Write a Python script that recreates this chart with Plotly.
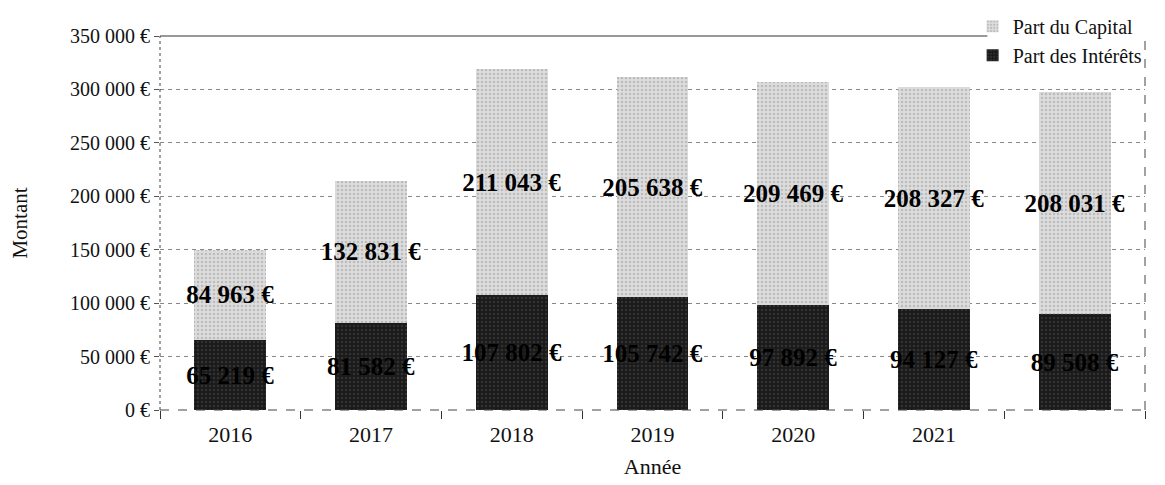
import plotly.graph_objects as go

years = ["2016", "2017", "2018", "2019", "2020", "2021", "2022"]
year_labels = ["2016", "2017", "2018", "2019", "2020", "2021", ""]
capital = [84963, 132831, 211043, 205638, 209469, 208327, 208031]
interets = [65219, 81582, 107802, 105742, 97892, 94127, 89508]
ytick_vals = [0, 50000, 100000, 150000, 200000, 250000, 300000, 350000]
ytick_text = ["0 €", "50 000 €", "100 000 €", "150 000 €", "200 000 €", "250 000 €", "300 000 €", "350 000 €"]

def eur(v):
    return f"{v:,}".replace(",", " ") + " €"

serif = "Liberation Serif, DejaVu Serif, serif"

fig = go.Figure()
fig.add_trace(go.Bar(
    x=years, y=interets, name="Part des Intérêts",
    marker=dict(color="#1e1e1e", line=dict(width=0),
                pattern=dict(shape=".", fgcolor="#4a4a4a", bgcolor="#1a1a1a", size=4, solidity=0.3)),
    text=["<b>" + eur(v) + "</b>" for v in interets],
    textposition="inside", insidetextanchor="middle", textangle=0,
    textfont=dict(family=serif, size=25, color="#000000"),
))
fig.add_trace(go.Bar(
    x=years, y=capital, name="Part du Capital",
    marker=dict(color="#d4d4d4", line=dict(width=0),
                pattern=dict(shape=".", fgcolor="#999999", bgcolor="#dcdcdc", size=4, solidity=0.3)),
    text=["<b>" + eur(v) + "</b>" for v in capital],
    textposition="inside", insidetextanchor="middle", textangle=0,
    textfont=dict(family=serif, size=25, color="#000000"),
))

fig.update_layout(
    barmode="stack",
    bargap=0.49,
    width=1157, height=477,
    margin=dict(l=152, r=20, t=28, b=75, autoexpand=False),
    paper_bgcolor="white", plot_bgcolor="white",
    font=dict(family=serif, size=18, color="#111111"),
    uniformtext=dict(minsize=25, mode="show"),
    legend=dict(x=0.825, y=1.078, xanchor="left", yanchor="top",
                traceorder="reversed", font=dict(family=serif, size=20, color="#111"),
                bgcolor="rgba(255,255,255,0)", itemwidth=30, tracegroupgap=0),
    showlegend=True,
)
fig.update_xaxes(
    tickvals=years, ticktext=year_labels, range=[-0.5, 6.5],
    tickson="boundaries", ticks="outside", ticklen=8, tickcolor="#333",
    ticklabelstandoff=9,
    showline=False, showgrid=False,
    tickfont=dict(family=serif, size=22, color="#111"),
    title=dict(text="Année", font=dict(family=serif, size=22, color="#111"), standoff=12),
)
fig.update_yaxes(
    range=[0, 350000], tickvals=ytick_vals, ticktext=ytick_text,
    ticks="outside", ticklen=5, tickcolor="#555",
    showgrid=True, gridcolor="#888888", griddash="4px,4px", gridwidth=1,
    zeroline=False, showline=False,
    tickfont=dict(family=serif, size=20, color="#111"),
    title=dict(text="Montant", font=dict(family=serif, size=21, color="#111"), standoff=36),
)
fig.add_shape(type="line", xref="paper", yref="paper", x0=0, x1=0.84, y0=1, y1=1,
              line=dict(color="#333", width=1))
fig.add_shape(type="line", xref="paper", yref="paper", x0=0, x1=1, y0=0, y1=0,
              line=dict(color="#444", width=1, dash="dash"))
fig.add_shape(type="line", xref="paper", yref="paper", x0=0, x1=0, y0=0, y1=1,
              line=dict(color="#444", width=1, dash="dot"))
fig.add_shape(type="line", xref="paper", yref="paper", x0=1, x1=1, y0=0, y1=1,
              line=dict(color="#444", width=1, dash="dash"))

fig.write_html("out.html")
